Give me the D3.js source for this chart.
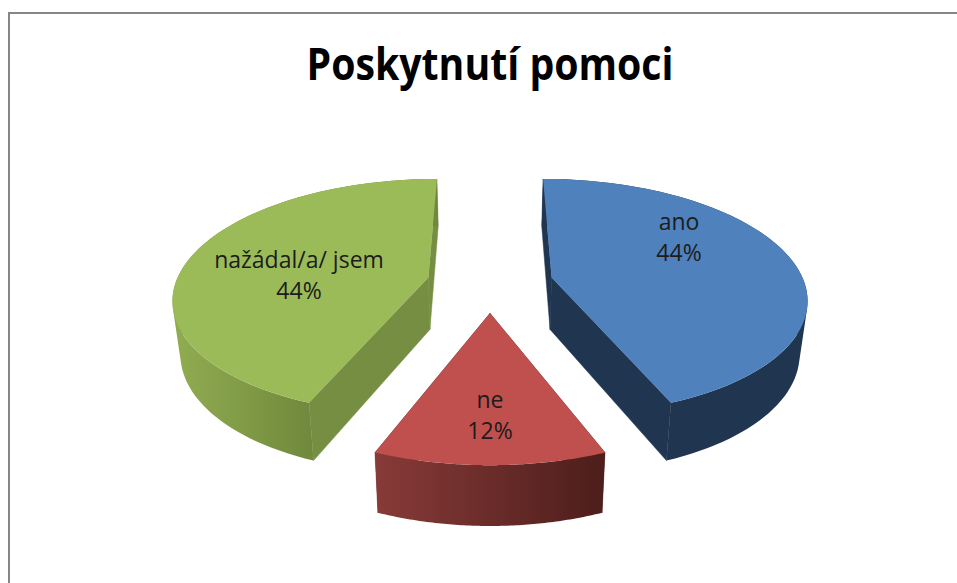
<!DOCTYPE html>
<html>
<head>
<meta charset="utf-8">
<title>Poskytnutí pomoci</title>
<script src="https://d3js.org/d3.v7.min.js"></script>
<style>
  html, body { margin: 0; padding: 0; background: #fff; }
  svg { display: block; }
  text { font-family: "Open Sans", "Noto Sans", sans-serif; }
</style>
</head>
<body>
<div id="vis"></div>
<script>
  // data
  var categories = ["ano", "ne", "nažádal/a/ jsem"];
  var values = [44, 12, 44];
  var chartTitle = "Poskytnutí pomoci";

  // colours per slice: top face, cut wall, outer wall gradient
  var topColors = ["#4f81bd", "#c0504d", "#9bbb59"];
  var cutColors = ["#1f3550", "#6b2c2a", "#768e42"];
  var sideFrom = ["#1f3550", "#873a38", "#8fab50"];
  var sideTo = ["#1f3550", "#4d1e1b", "#70883c"];

  // label centres, in pixels
  var labelX = [679, 490, 299];
  var labelY = [222, 400, 260];

  var width = 957, height = 583;
  var radius = 252, explode = 63, centerX = 490, centerY = 283;
  var tilt = 0.46, persp = 0.00064, thick = 52;

  var svg = d3.select("#vis").append("svg")
    .attr("width", width)
    .attr("height", height);

  // chart frame, only top and left are inside the picture
  svg.append("path")
    .attr("d", "M9," + height + "V13H" + width)
    .attr("fill", "none")
    .attr("stroke", "#868686")
    .attr("stroke-width", 2);

  svg.append("text")
    .attr("x", 490)
    .attr("y", 80)
    .attr("text-anchor", "middle")
    .attr("textLength", 367)
    .attr("lengthAdjust", "spacingAndGlyphs")
    .style("font-size", "44px")
    .style("font-weight", 700)
    .style("fill", "#000")
    .text(chartTitle);

  var pie = d3.pie().sort(null).value(function(d) { return d; });
  var slices = pie(values);

  // disk coordinates to screen, nearer points get bigger
  function project(wx, wy, bottom) {
    var k = 1 / (0.997 - persp * wy);
    var m = bottom ? 0.975 : 1;
    return [
      centerX + wx * k * m,
      centerY + wy * tilt * k * m + (bottom ? thick * k : 0)
    ];
  }

  function rimPoint(s, a, r, bottom) {
    var mid = (s.startAngle + s.endAngle) / 2;
    return project(
      r * Math.sin(a) + explode * Math.sin(mid),
      -r * Math.cos(a) - explode * Math.cos(mid),
      bottom
    );
  }

  function arcPoints(s, bottom) {
    var angle = d3.scaleLinear().domain([0, 80]).range([s.startAngle, s.endAngle]);
    return d3.range(81).map(function(i) {
      return rimPoint(s, angle(i), radius, bottom);
    });
  }

  var line = d3.line().curve(d3.curveLinearClosed);
  var defs = svg.append("defs");

  slices.forEach(function(s, i) {
    var g = svg.append("g").attr("class", "slice");
    var topArc = arcPoints(s, false);
    var bottomArc = arcPoints(s, true);
    var apexTop = rimPoint(s, 0, 0, false);
    var apexBottom = rimPoint(s, 0, 0, true);

    // the two cut walls
    g.append("path")
      .attr("d", line([apexTop, topArc[0], bottomArc[0], apexBottom]))
      .attr("fill", cutColors[i])
      .attr("stroke", cutColors[i])
      .attr("stroke-width", 0.5);
    g.append("path")
      .attr("d", line([apexTop, topArc[80], bottomArc[80], apexBottom]))
      .attr("fill", cutColors[i])
      .attr("stroke", cutColors[i])
      .attr("stroke-width", 0.5);

    // outer wall with the sideways shading, built from small quads so the
    // silhouette follows the tangent between both rims
    var xs = d3.extent(bottomArc, function(p) { return p[1] > centerY ? p[0] : NaN; });
    var grad = defs.append("linearGradient")
      .attr("id", "side" + i)
      .attr("gradientUnits", "userSpaceOnUse")
      .attr("x1", xs[0]).attr("x2", xs[1])
      .attr("y1", 0).attr("y2", 0);
    grad.append("stop").attr("offset", 0).attr("stop-color", sideFrom[i]);
    grad.append("stop").attr("offset", 1).attr("stop-color", sideTo[i]);

    var wall = d3.range(80).map(function(j) {
      // keep every quad wound the same way so the path fills without holes
      var quad = [topArc[j], topArc[j + 1], bottomArc[j + 1], bottomArc[j]];
      return line(d3.polygonArea(quad) < 0 ? quad.reverse() : quad);
    }).join("");

    g.append("path")
      .attr("d", wall)
      .attr("fill", "url(#side" + i + ")");

    // top face
    g.append("path")
      .attr("d", line([apexTop].concat(topArc)))
      .attr("fill", topColors[i]);

    // label
    var t = svg.append("text")
      .attr("text-anchor", "middle")
      .style("font-size", "23px")
      .style("fill", "#1c1c1c");
    t.append("tspan")
      .attr("x", labelX[i])
      .attr("y", labelY[i] + 8)
      .text(categories[i]);
    t.append("tspan")
      .attr("x", labelX[i])
      .attr("y", labelY[i] + 39)
      .text(values[i] + "%");
  });
</script>
</body>
</html>
